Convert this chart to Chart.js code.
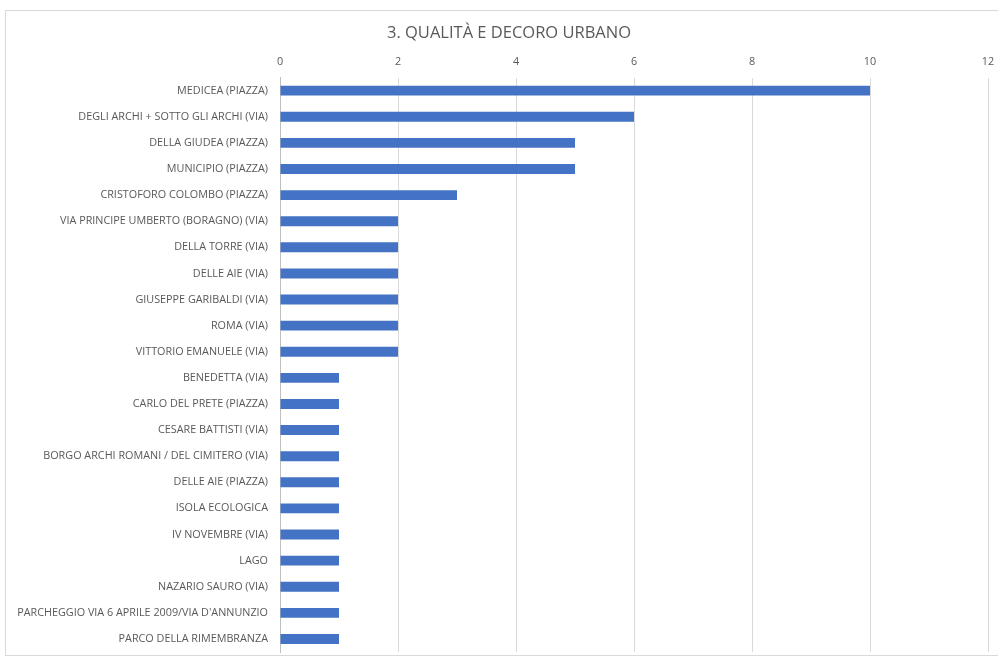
<!DOCTYPE html>
<html>
<head>
<meta charset="utf-8">
<script src="https://cdn.jsdelivr.net/npm/chart.js@4"></script>
<style>
  html, body { margin: 0; padding: 0; background: #fff; }
  #wrap { position: relative; width: 998px; height: 663px; overflow: hidden; }
  #frame { position: absolute; left: 5px; top: 10px; width: 1000px; height: 644px; border: 1px solid #d9d9d9; }
  canvas { position: absolute; left: 0; top: 0; }
</style>
</head>
<body>
<div id="wrap">
  <div id="frame"></div>
  <canvas id="chart" width="998" height="663"></canvas>
</div>
<script>
const chartTitle = '3. QUALITÀ E DECORO URBANO';

const streets = [
    'MEDICEA (PIAZZA)',
    'DEGLI ARCHI + SOTTO GLI ARCHI (VIA)',
    'DELLA GIUDEA (PIAZZA)',
    'MUNICIPIO (PIAZZA)',
    'CRISTOFORO COLOMBO (PIAZZA)',
    'VIA PRINCIPE UMBERTO (BORAGNO) (VIA)',
    'DELLA TORRE (VIA)',
    'DELLE AIE (VIA)',
    'GIUSEPPE GARIBALDI (VIA)',
    'ROMA (VIA)',
    'VITTORIO EMANUELE (VIA)',
    'BENEDETTA (VIA)',
    'CARLO DEL PRETE (PIAZZA)',
    'CESARE BATTISTI (VIA)',
    'BORGO ARCHI ROMANI / DEL CIMITERO (VIA)',
    'DELLE AIE (PIAZZA)',
    'ISOLA ECOLOGICA',
    'IV NOVEMBRE (VIA)',
    'LAGO',
    'NAZARIO SAURO (VIA)',
    'PARCHEGGIO VIA 6 APRILE 2009/VIA D\'ANNUNZIO',
    'PARCO DELLA RIMEMBRANZA'
];

const counts = [10, 6, 5, 5, 3, 2, 2, 2, 2, 2, 2, 1, 1, 1, 1, 1, 1, 1, 1, 1, 1, 1];

const axisMin = 0;
const axisMax = 12;
const axisStep = 2;

const labelFont = { family: '"Open Sans", sans-serif', size: 10.8 };

// drop the automatic label overhang so the plot area lands where we want it
function noOverhang(scale) {
    scale.paddingLeft = 0;
    scale.paddingRight = 0;
    scale.paddingTop = 0;
    scale.paddingBottom = 0;
}

// title in the original sits a bit right of the canvas centre
const shiftTitle = {
    id: 'shiftTitle',
    afterLayout(chart) {
        const block = chart.titleBlock;
        if (block) {
            block.left += 15;
            block.right += 15;
        }
    }
};

new Chart(document.getElementById('chart'), {
    type: 'bar',
    data: {
        labels: streets,
        datasets: [{
            data: counts,
            backgroundColor: '#4472c4',
            borderWidth: 0,
            barPercentage: 0.38,
            categoryPercentage: 1
        }]
    },
    options: {
        indexAxis: 'y',
        responsive: false,
        animation: false,
        layout: { padding: { top: 0, right: 10, bottom: 11, left: 0 } },
        plugins: {
            legend: { display: false },
            tooltip: { enabled: false },
            title: {
                display: true,
                text: chartTitle,
                color: '#595959',
                font: { family: '"Open Sans", sans-serif', size: 16.5, weight: 'normal' },
                padding: { top: 23, bottom: 0 }
            }
        },
        scales: {
            x: {
                position: 'top',
                min: axisMin,
                max: axisMax,
                ticks: { stepSize: axisStep, color: '#595959', font: labelFont, padding: 9 },
                grid: { color: '#d9d9d9', drawTicks: false },
                border: { display: false },
                afterFit: scale => { scale.height = 34.8; noOverhang(scale); }
            },
            y: {
                ticks: { color: '#595959', font: labelFont, padding: 12, autoSkip: false },
                grid: { display: false, drawTicks: false },
                border: { display: true, color: '#bfbfbf' },
                afterFit: scale => { scale.width = 280; noOverhang(scale); }
            }
        }
    },
    plugins: [shiftTitle]
});
</script>
</body>
</html>
